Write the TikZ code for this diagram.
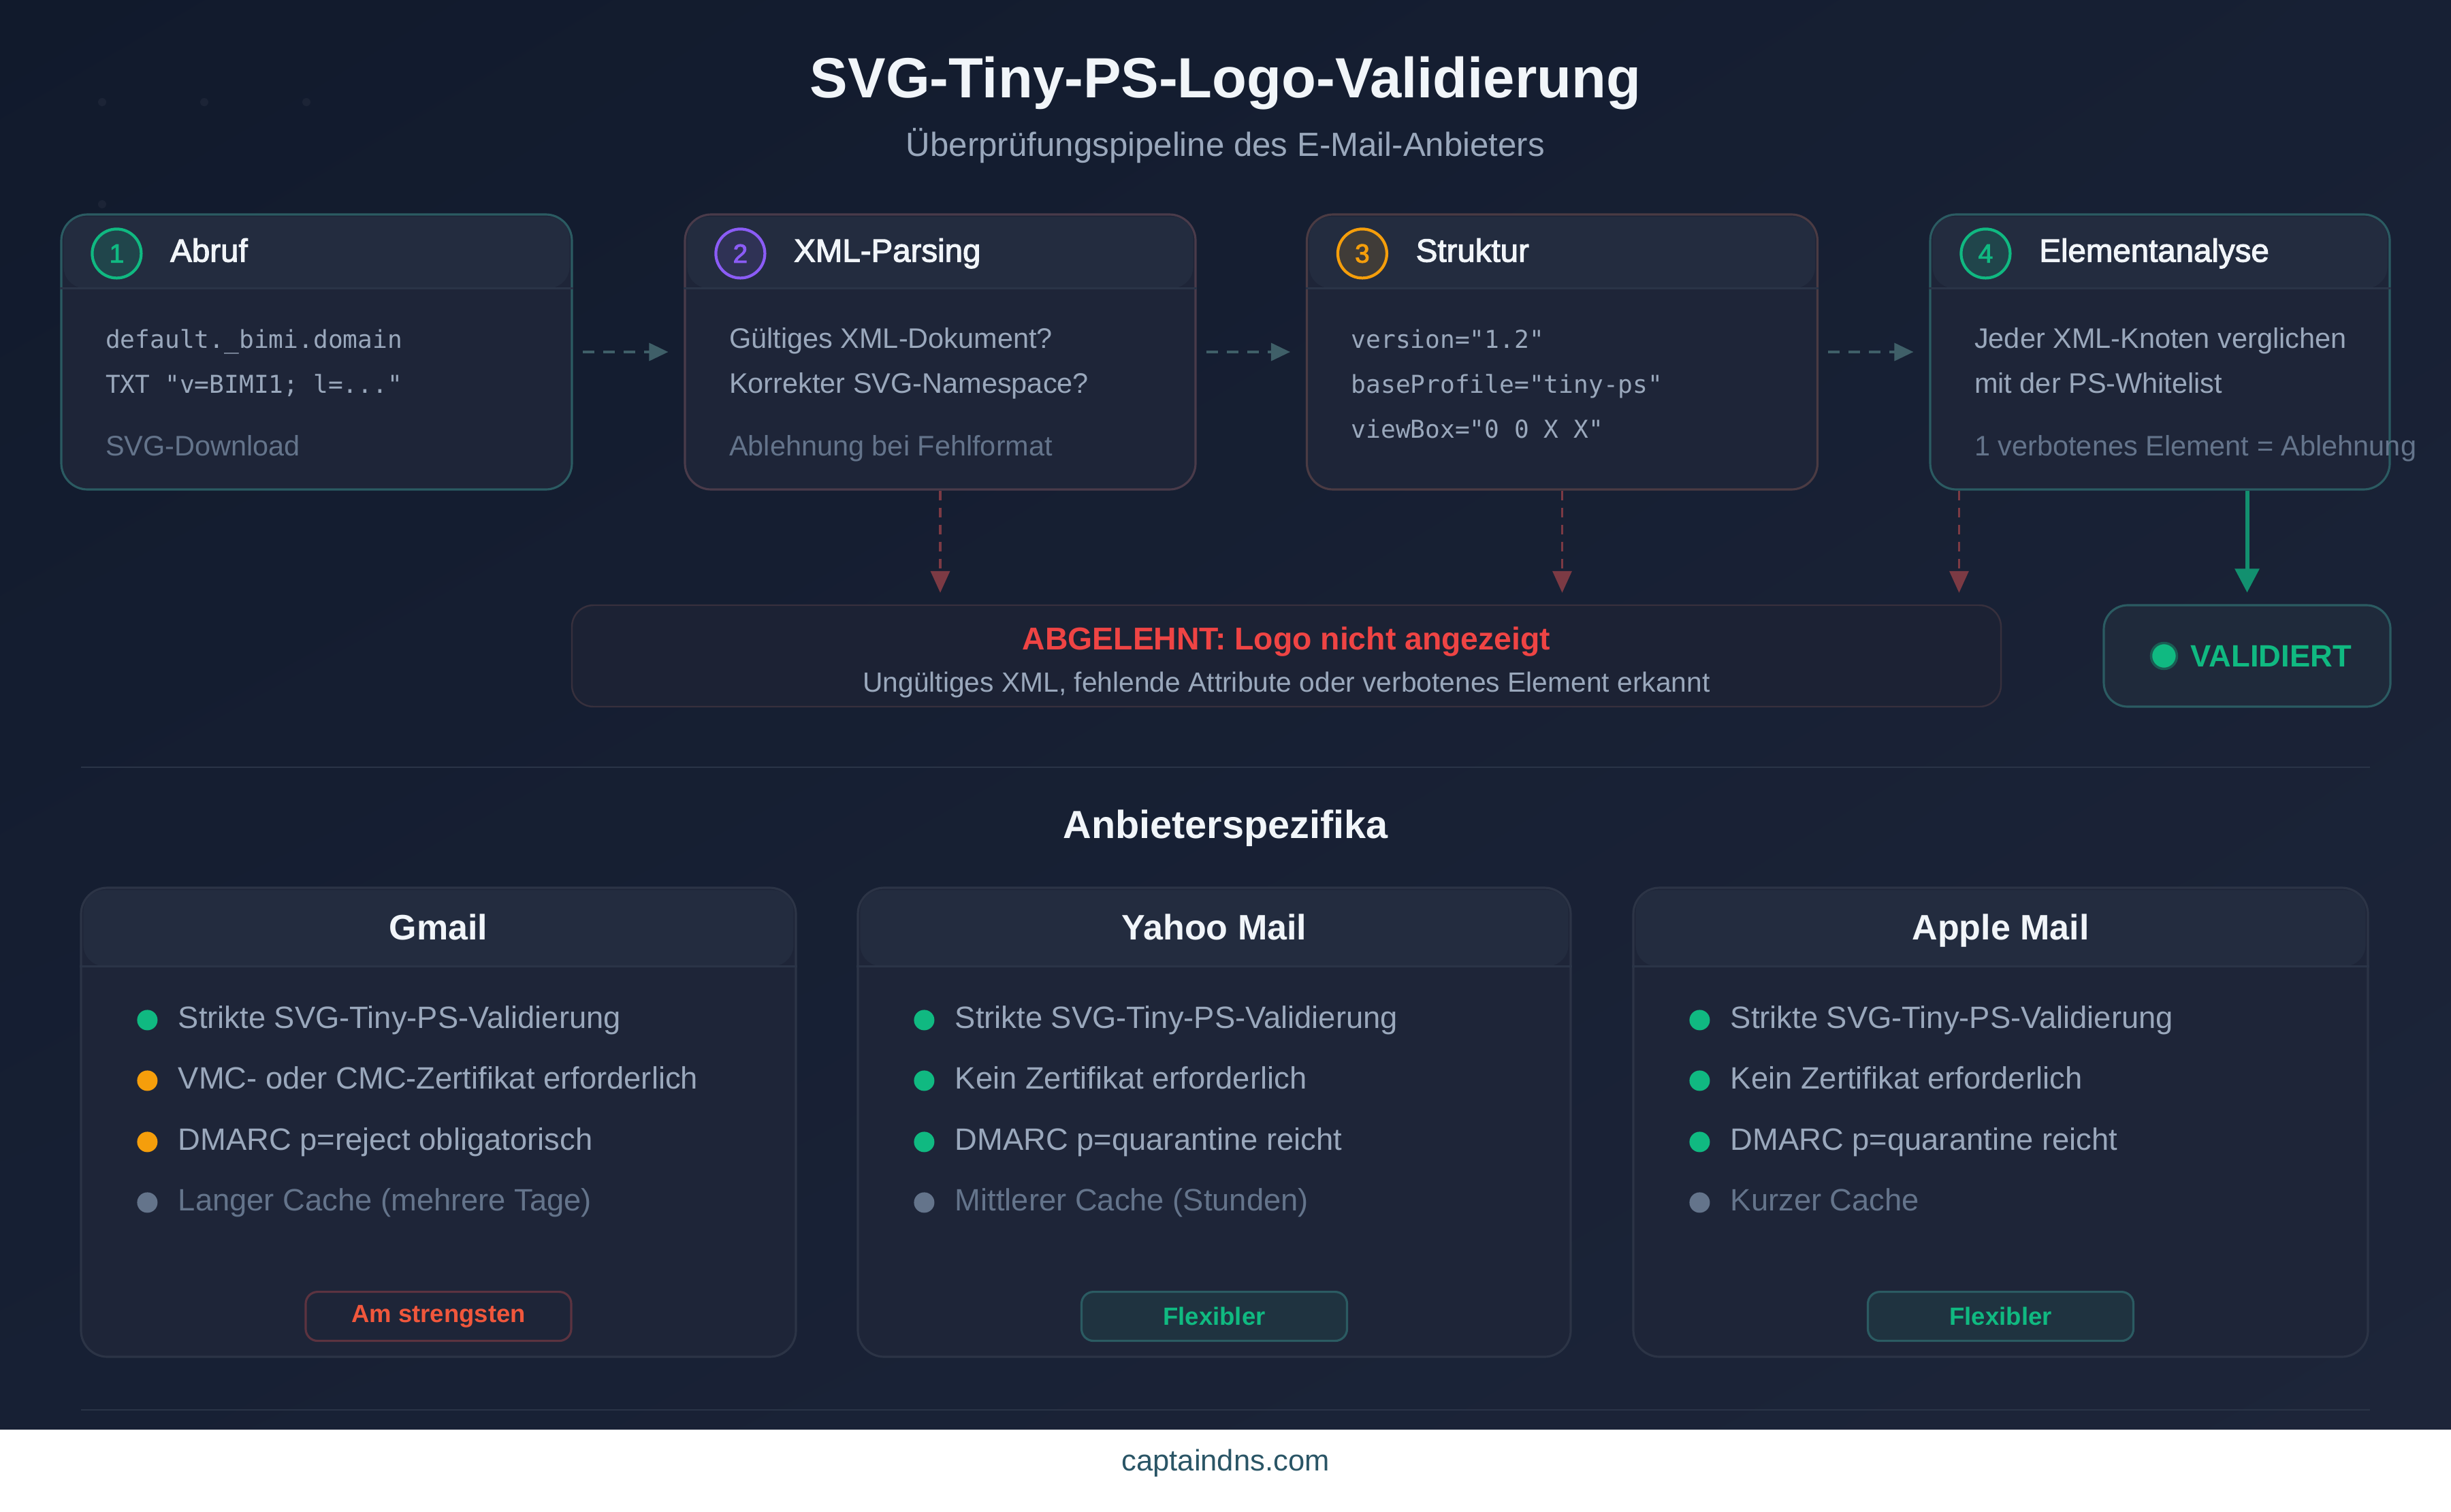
\documentclass[tikz,border=0pt]{standalone}
\usepackage{fontspec}
\setmainfont{Liberation Sans}
\setmonofont{DejaVu Sans Mono}
\newfontfamily\semibold[FakeBold=2.5]{Liberation Sans}
\usetikzlibrary{positioning, arrows.meta, shadings}

\definecolor{bgdark}{HTML}{111A2C}
\definecolor{bgmid}{HTML}{172034}
\definecolor{bglight}{HTML}{1D2539}
\definecolor{bgdot}{HTML}{1C2436}
\definecolor{boxbg}{HTML}{1E2538}
\definecolor{hdrbg}{HTML}{232C3F}
\definecolor{sepline}{HTML}{2A3447}
\definecolor{tealedge}{HTML}{2B5B62}
\definecolor{plumedge}{HTML}{4A3B4A}
\definecolor{brownedge}{HTML}{4B3B43}
\definecolor{cardedge}{HTML}{2C3446}
\definecolor{okgreen}{HTML}{10B981}
\definecolor{stepviolet}{HTML}{8B5CF6}
\definecolor{amber}{HTML}{F59E0B}
\definecolor{rejred}{HTML}{EF4444}
\definecolor{rejedge}{HTML}{37303D}
\definecolor{rejbg}{HTML}{1C2234}
\definecolor{valbg}{HTML}{1F2A3B}
\definecolor{textlight}{HTML}{9AA8BC}
\definecolor{textdim}{HTML}{64748B}
\definecolor{titlewhite}{HTML}{F1F5F9}
\definecolor{flowgray}{HTML}{3F5F68}
\definecolor{rejline}{HTML}{7C3A44}
\definecolor{validline}{HTML}{12906F}
\definecolor{strictred}{HTML}{F0573C}
\definecolor{strictedge}{HTML}{5C3340}
\definecolor{flexbg}{HTML}{1F3340}
\definecolor{footteal}{HTML}{2A5566}

\tikzstyle{stepbox} = [draw, line width=0.9pt, rounded corners=11pt, fill=boxbg, minimum width=7.5cm, minimum height=4.04cm]
\tikzstyle{numcircle} = [circle, draw, line width=1.2pt, minimum size=0.72cm, inner sep=0pt, font=\semibold\fontsize{11}{13}\selectfont]
\tikzstyle{steptitle} = [inner sep=0pt, text=titlewhite, text height=1.8ex, text depth=0.5ex, font=\semibold\fontsize{13.5}{16}\selectfont]
\tikzstyle{bodytxt} = [inner sep=0pt, anchor=west, text=textlight, text height=1.8ex, text depth=0.5ex, font=\fontsize{11.8}{14}\selectfont]
\tikzstyle{codetxt} = [bodytxt, font=\ttfamily\fontsize{10.3}{12}\selectfont]
\tikzstyle{dimtxt} = [bodytxt, text=textdim]
\tikzstyle{flow} = [flowgray, line width=1pt, dash pattern=on 0.17cm off 0.13cm, -{Triangle[length=0.28cm, width=0.26cm]}, shorten <=0.14cm, shorten >=0.23cm]
\tikzstyle{rejflow} = [rejline, line width=1pt, dash pattern=on 0.14cm off 0.11cm, -{Triangle[length=0.32cm, width=0.28cm]}, shorten >=0.17cm]
\tikzstyle{passflow} = [validline, line width=1.7pt, -{Triangle[length=0.35cm, width=0.35cm]}, shorten >=0.17cm]
\tikzstyle{cardbox} = [draw=cardedge, line width=0.9pt, rounded corners=11pt, fill=boxbg, minimum height=6.89cm]
\tikzstyle{cardtitle} = [inner sep=0pt, text=titlewhite, text height=1.8ex, text depth=0.5ex, font=\bfseries\fontsize{14.8}{17}\selectfont]
\tikzstyle{dot} = [circle, inner sep=0pt, minimum size=0.3cm]
\tikzstyle{itemtxt} = [inner sep=0pt, text=textlight, text height=1.8ex, text depth=0.5ex, font=\fontsize{12.9}{15}\selectfont]
\tikzstyle{badge} = [draw, line width=0.9pt, rounded corners=5pt, minimum width=3.9cm, minimum height=0.72cm, inner sep=0pt, font=\bfseries\fontsize{10.4}{12}\selectfont]

\begin{document}
\begin{tikzpicture}[y=-1cm]
    \useasboundingbox (0,0) rectangle (36,22.2);
    \shade[upper left=bgdark, upper right=bgmid, lower left=bgmid, lower right=bglight] (0,0) rectangle (36,21.0);
    \fill[bgdot] (1.5,1.5) circle (0.06) (3,1.5) circle (0.06) (4.5,1.5) circle (0.06) (1.5,3) circle (0.06)
        (31.5,18) circle (0.06) (33,18) circle (0.06) (34.5,18) circle (0.06) (33,19.5) circle (0.06);

    \node[text=titlewhite, font=\bfseries\fontsize{23.7}{28}\selectfont] (title) at (18,1.22) {SVG-Tiny-PS-Logo-Validierung};
    \node[text=textlight, font=\fontsize{14}{17}\selectfont] (subtitle) at (18,2.14) {Überprüfungspipeline des E-Mail-Anbieters};

    % pipeline steps
    \node[stepbox, draw=tealedge] (s1) at (4.65,5.17) {};
    \node[stepbox, draw=plumedge] (s2) at (13.81,5.17) {};
    \node[stepbox, draw=brownedge] (s3) at (22.945,5.17) {};
    \node[stepbox, draw=tealedge, minimum width=6.75cm] (s4) at (31.725,5.17) {};

    \fill[hdrbg, rounded corners=9pt] ([shift={(0.05,0.05)}]s1.north west) rectangle ([shift={(-0.05,1.10)}]s1.north east);
    \fill[hdrbg, rounded corners=9pt] ([shift={(0.05,0.05)}]s2.north west) rectangle ([shift={(-0.05,1.10)}]s2.north east);
    \fill[hdrbg, rounded corners=9pt] ([shift={(0.05,0.05)}]s3.north west) rectangle ([shift={(-0.05,1.10)}]s3.north east);
    \fill[hdrbg, rounded corners=9pt] ([shift={(0.05,0.05)}]s4.north west) rectangle ([shift={(-0.05,1.10)}]s4.north east);
    \draw[sepline, line width=0.8pt] ([shift={(0,1.10)}]s1.north west) -- ([shift={(0,1.10)}]s1.north east);
    \draw[sepline, line width=0.8pt] ([shift={(0,1.10)}]s2.north west) -- ([shift={(0,1.10)}]s2.north east);
    \draw[sepline, line width=0.8pt] ([shift={(0,1.10)}]s3.north west) -- ([shift={(0,1.10)}]s3.north east);
    \draw[sepline, line width=0.8pt] ([shift={(0,1.10)}]s4.north west) -- ([shift={(0,1.10)}]s4.north east);

    \node[numcircle, draw=okgreen, fill=okgreen!18!hdrbg, text=okgreen] (n1) at ([shift={(0.83,0.59)}]s1.north west) {1};
    \node[steptitle, right=0.4cm of n1] (t1) {Abruf};
    \node[codetxt] (s1a) at ([shift={(0.66,1.86)}]s1.north west) {default.\_bimi.domain};
    \node[codetxt] (s1b) at ([shift={(0.66,2.52)}]s1.north west) {TXT "v=BIMI1; l=..."};
    \node[dimtxt] (s1c) at ([shift={(0.66,3.44)}]s1.north west) {SVG-Download};

    \node[numcircle, draw=stepviolet, fill=stepviolet!12!hdrbg, text=stepviolet] (n2) at ([shift={(0.83,0.59)}]s2.north west) {2};
    \node[steptitle, right=0.4cm of n2] (t2) {XML-Parsing};
    \node[bodytxt] (s2a) at ([shift={(0.66,1.86)}]s2.north west) {Gültiges XML-Dokument?};
    \node[bodytxt] (s2b) at ([shift={(0.66,2.52)}]s2.north west) {Korrekter SVG-Namespace?};
    \node[dimtxt] (s2c) at ([shift={(0.66,3.44)}]s2.north west) {Ablehnung bei Fehlformat};

    \node[numcircle, draw=amber, fill=amber!14!hdrbg, text=amber] (n3) at ([shift={(0.83,0.59)}]s3.north west) {3};
    \node[steptitle, right=0.4cm of n3] (t3) {Struktur};
    \node[codetxt] (s3a) at ([shift={(0.66,1.86)}]s3.north west) {version="1.2"};
    \node[codetxt] (s3b) at ([shift={(0.66,2.52)}]s3.north west) {baseProfile="tiny-ps"};
    \node[codetxt] (s3c) at ([shift={(0.66,3.18)}]s3.north west) {viewBox="0 0 X X"};

    \node[numcircle, draw=okgreen, fill=okgreen!18!hdrbg, text=okgreen] (n4) at ([shift={(0.83,0.59)}]s4.north west) {4};
    \node[steptitle, right=0.4cm of n4] (t4) {Elementanalyse};
    \node[bodytxt] (s4a) at ([shift={(0.66,1.86)}]s4.north west) {Jeder XML-Knoten verglichen};
    \node[bodytxt] (s4b) at ([shift={(0.66,2.52)}]s4.north west) {mit der PS-Whitelist};
    \node[dimtxt] (s4c) at ([shift={(0.66,3.44)}]s4.north west) {1 verbotenes Element = Ablehnung};

    % outcomes
    \node[draw=rejedge, fill=rejbg, line width=0.7pt, rounded corners=9pt, minimum width=20.99cm, minimum height=1.49cm] (rej) at (18.895,9.635) {};
    \node[inner sep=0pt, text=rejred, font=\bfseries\fontsize{13.2}{16}\selectfont] (rejt) at ([shift={(0,0.55)}]rej.north) {ABGELEHNT: Logo nicht angezeigt};
    \node[inner sep=0pt, text=textlight, font=\fontsize{11.6}{14}\selectfont] (rejs) at ([shift={(0,1.18)}]rej.north) {Ungültiges XML, fehlende Attribute oder verbotenes Element erkannt};

    \node[draw=tealedge, fill=valbg, line width=0.9pt, rounded corners=10pt, minimum width=4.21cm, minimum height=1.49cm] (val) at (33.005,9.635) {};
    \node[dot, fill=okgreen, draw=okgreen!35!valbg, line width=1pt, minimum size=0.38cm] (vdot) at ([xshift=0.9cm]val.west) {};
    \node[inner sep=0pt, right=0.18cm of vdot, text=okgreen, font=\bfseries\fontsize{12.9}{15}\selectfont] (vtxt) {VALIDIERT};

    \draw[flow] (s1) -- (s2);
    \draw[flow] (s2) -- (s3);
    \draw[flow] (s3) -- (s4);
    \draw[rejflow] (s2.south) -- (s2.south |- rej.north);
    \draw[rejflow] (s3.south) -- (s3.south |- rej.north);
    \draw[rejflow] ([xshift=0.44cm]s4.south west) -- ([xshift=0.44cm]s4.south west |- rej.north);
    \draw[passflow] (s4.south -| val.north) -- (val.north);

    \draw[sepline, line width=0.8pt] (1.19,11.27) -- (34.81,11.27);
    \node[text=titlewhite, font=\bfseries\fontsize{16.4}{19}\selectfont] (spec) at (18,12.17) {Anbieterspezifika};

    % provider cards
    \node[cardbox, minimum width=10.5cm] (gmail) at (6.44,16.485) {};
    \node[cardbox, minimum width=10.47cm] (yahoo) at (17.835,16.485) {};
    \node[cardbox, minimum width=10.79cm] (apple) at (29.385,16.485) {};
    \fill[hdrbg, rounded corners=9pt] ([shift={(0.05,0.05)}]gmail.north west) rectangle ([shift={(-0.05,1.17)}]gmail.north east);
    \fill[hdrbg, rounded corners=9pt] ([shift={(0.05,0.05)}]yahoo.north west) rectangle ([shift={(-0.05,1.17)}]yahoo.north east);
    \fill[hdrbg, rounded corners=9pt] ([shift={(0.05,0.05)}]apple.north west) rectangle ([shift={(-0.05,1.17)}]apple.north east);
    \draw[sepline, line width=0.8pt] ([shift={(0,1.17)}]gmail.north west) -- ([shift={(0,1.17)}]gmail.north east);
    \draw[sepline, line width=0.8pt] ([shift={(0,1.17)}]yahoo.north west) -- ([shift={(0,1.17)}]yahoo.north east);
    \draw[sepline, line width=0.8pt] ([shift={(0,1.17)}]apple.north west) -- ([shift={(0,1.17)}]apple.north east);

    \node[cardtitle] (gmailt) at ([shift={(0,0.66)}]gmail.north) {Gmail};
    \node[dot, fill=okgreen] (g1) at ([shift={(0.99,1.96)}]gmail.north west) {};
    \node[itemtxt, right=0.29cm of g1] (g1t) {Strikte SVG-Tiny-PS-Validierung};
    \node[dot, fill=amber] (g2) at ([shift={(0.99,2.85)}]gmail.north west) {};
    \node[itemtxt, right=0.29cm of g2] (g2t) {VMC- oder CMC-Zertifikat erforderlich};
    \node[dot, fill=amber] (g3) at ([shift={(0.99,3.75)}]gmail.north west) {};
    \node[itemtxt, right=0.29cm of g3] (g3t) {DMARC p=reject obligatorisch};
    \node[dot, fill=textdim] (g4) at ([shift={(0.99,4.64)}]gmail.north west) {};
    \node[itemtxt, text=textdim, right=0.29cm of g4] (g4t) {Langer Cache (mehrere Tage)};
    \node[badge, draw=strictedge, fill=boxbg, text=strictred] (gmailb) at ([shift={(0,-0.61)}]gmail.south) {Am strengsten};

    \node[cardtitle] (yahoot) at ([shift={(0,0.66)}]yahoo.north) {Yahoo Mail};
    \node[dot, fill=okgreen] (y1) at ([shift={(0.99,1.96)}]yahoo.north west) {};
    \node[itemtxt, right=0.29cm of y1] (y1t) {Strikte SVG-Tiny-PS-Validierung};
    \node[dot, fill=okgreen] (y2) at ([shift={(0.99,2.85)}]yahoo.north west) {};
    \node[itemtxt, right=0.29cm of y2] (y2t) {Kein Zertifikat erforderlich};
    \node[dot, fill=okgreen] (y3) at ([shift={(0.99,3.75)}]yahoo.north west) {};
    \node[itemtxt, right=0.29cm of y3] (y3t) {DMARC p=quarantine reicht};
    \node[dot, fill=textdim] (y4) at ([shift={(0.99,4.64)}]yahoo.north west) {};
    \node[itemtxt, text=textdim, right=0.29cm of y4] (y4t) {Mittlerer Cache (Stunden)};
    \node[badge, draw=tealedge, fill=flexbg, text=okgreen] (yahoob) at ([shift={(0,-0.61)}]yahoo.south) {Flexibler};

    \node[cardtitle] (applet) at ([shift={(0,0.66)}]apple.north) {Apple Mail};
    \node[dot, fill=okgreen] (a1) at ([shift={(0.99,1.96)}]apple.north west) {};
    \node[itemtxt, right=0.29cm of a1] (a1t) {Strikte SVG-Tiny-PS-Validierung};
    \node[dot, fill=okgreen] (a2) at ([shift={(0.99,2.85)}]apple.north west) {};
    \node[itemtxt, right=0.29cm of a2] (a2t) {Kein Zertifikat erforderlich};
    \node[dot, fill=okgreen] (a3) at ([shift={(0.99,3.75)}]apple.north west) {};
    \node[itemtxt, right=0.29cm of a3] (a3t) {DMARC p=quarantine reicht};
    \node[dot, fill=textdim] (a4) at ([shift={(0.99,4.64)}]apple.north west) {};
    \node[itemtxt, text=textdim, right=0.29cm of a4] (a4t) {Kurzer Cache};
    \node[badge, draw=tealedge, fill=flexbg, text=okgreen] (appleb) at ([shift={(0,-0.61)}]apple.south) {Flexibler};

    % footer
    \draw[sepline, line width=0.8pt] (1.19,20.71) -- (34.81,20.71);
    \fill[white] (0,21.0) rectangle (36,22.2);
    \node[text=footteal, font=\fontsize{12.4}{15}\selectfont] (foot) at (18,21.49) {captaindns.com};
\end{tikzpicture}
\end{document}
